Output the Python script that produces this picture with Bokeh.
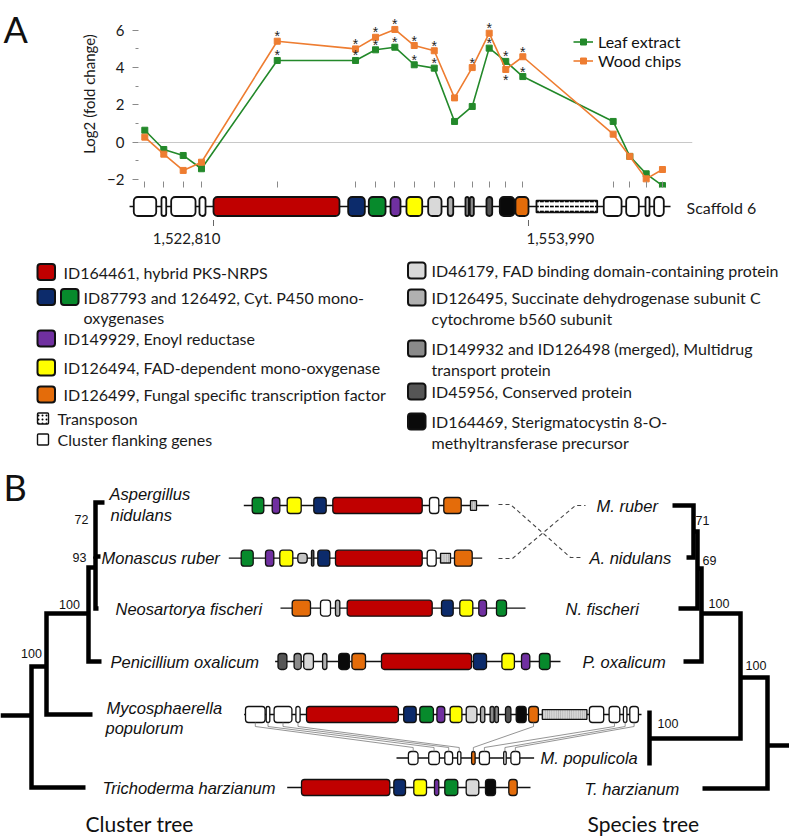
from bokeh.plotting import figure
from bokeh.models import (Range1d, FixedTicker, Legend, LegendItem,
                          ColumnDataSource, CustomJSTickFormatter)
from bokeh.layouts import column, row
from bokeh.embed import file_html
from bokeh.resources import INLINE
from bokeh.core.properties import value

# ---------------- Panel A data ----------------
# probe positions along scaffold 6, kb relative to position 1,522,810
probe_pos_kb = [-6.80, -4.92, -3.00, -1.19, 6.31, 14.06, 16.04, 17.95, 19.87, 21.85,
                23.86, 25.61, 27.29, 28.93, 30.62, 39.56, 41.21, 42.83, 44.44]
leaf_log2 = [0.64, -0.39, -0.71, -1.42, 4.37, 4.37, 4.94, 5.08, 4.14, 3.96,
             1.11, 1.91, 5.03, 4.32, 3.51, 1.11, -0.76, -1.69, -2.32]
wood_log2 = [0.27, -0.64, -1.51, -1.07, 5.40, 4.99, 5.61, 6.03, 5.17, 4.89,
             2.37, 3.99, 5.83, 3.89, 4.57, 0.43, -0.76, -1.96, -1.46]
leaf_sig = [0, 0, 0, 0, 1, 1, 1, 1, 1, 1, 0, 0, 1, 1, 1, 0, 0, 0, 0]
wood_sig = [0, 0, 0, 0, 1, 1, 1, 1, 1, 1, 0, 1, 1, 1, 1, 0, 0, 0, 0]
wood_star_below = [0, 0, 0, 0, 0, 0, 0, 0, 0, 0, 0, 0, 0, 1, 0, 0, 0, 0, 0]
series_names = ["Leaf extract", "Wood chips"]
y_ticks = [-2, 0, 2, 4, 6]
y_minor = [-1, 1, 3, 5]

# scaffold genes (kb relative to 1,522,810), kind
scaffold_genes = [
    (-7.89, -5.67, "flank"), (-5.15, -4.68, "flank"), (-4.19, -1.78, "flank"),
    (-1.39, -0.79, "flank"), (0.00, 12.47, "pks"), (13.33, 14.98, "p450a"),
    (15.37, 17.03, "p450b"), (17.52, 18.51, "er"), (19.10, 20.66, "fad"),
    (21.25, 22.57, "fadb"), (23.19, 23.73, "sdh"), (24.94, 25.27, "mdr"),
    (25.37, 25.77, "mdr"), (27.02, 27.59, "cons"), (28.34, 29.79, "mt"),
    (29.89, 31.18, "tf"), (31.97, 37.98, "tn"), (38.63, 40.39, "flank"),
    (40.85, 42.10, "flank"), (42.76, 43.16, "flank"), (43.62, 44.57, "flank"),
]
scaffold_span_kb = (-8.31, 45.24)
scaffold_marks_kb = [0.0, 31.18]
scaffold_mark_labels = ["1,522,810", "1,553,990"]

legend_left = [
    (["pks"], ["ID164461, hybrid PKS-NRPS"]),
    (["p450a", "p450b"], ["ID87793 and 126492, Cyt. P450 mono-", "oxygenases"]),
    (["er"], ["ID149929, Enoyl reductase"]),
    (["fad"], ["ID126494, FAD-dependent mono-oxygenase"]),
    (["tf"], ["ID126499, Fungal specific transcription factor"]),
    (["tn"], ["Transposon"]),
    (["flank"], ["Cluster flanking genes"]),
]
legend_right = [
    (["fadb"], ["ID46179, FAD binding domain-containing protein"]),
    (["sdh"], ["ID126495, Succinate dehydrogenase subunit C", "cytochrome b560 subunit"]),
    (["mdr"], ["ID149932 and ID126498 (merged), Multidrug", "transport protein"]),
    (["cons"], ["ID45956, Conserved protein"]),
    (["mt"], ["ID164469, Sterigmatocystin 8-O-", "methyltransferase precursor"]),
]

# ---------------- Panel B data (schematic units) ----------------
cluster_rows = {
    "A.nid": dict(y=505, span=(243.3, 488.3), genes=[
        (251.7, 263.3, "p450b"), (271.7, 279.3, "er"), (286.7, 300.7, "fad"),
        (313.3, 325.7, "p450a"), (332.3, 421.7, "pks"), (429, 438.3, "flank"),
        (443.3, 460.7, "tf"), (470, 476, "stripe")]),
    "M.rub": dict(y=557.7, span=(228.3, 481.7), genes=[
        (240.7, 252.7, "p450b"), (265, 273.3, "er"), (279.3, 292.3, "fad"),
        (297.3, 306.7, "grays"), (311, 313.3, "cons"), (317.3, 329.3, "p450a"),
        (335, 421.7, "pks"), (426.7, 435.7, "flank"), (440, 450, "stripe"),
        (454, 471.7, "tf")]),
    "N.fis": dict(y=607.7, span=(280, 525), genes=[
        (291.7, 310, "tf"), (320, 330, "flank"), (335, 339.3, "sdh"),
        (346.7, 431.7, "pks"), (441, 452.7, "p450a"), (459.3, 472.3, "fad"),
        (478.3, 486, "er"), (496, 506, "p450b")]),
    "P.oxa": dict(y=661, span=(274.6, 560), genes=[
        (277.5, 286.4, "cons"), (293.6, 300.7, "mdr"), (303.2, 312.9, "fadb"),
        (322.1, 326.4, "sdh"), (338.2, 348.9, "mt"), (351.4, 365, "tf"),
        (381, 471, "pks"), (472.9, 486, "p450a"), (501.4, 513.9, "fad"),
        (521, 529.3, "er"), (538.9, 549.6, "p450b")]),
    "M.pop": dict(y=714, span=(243.6, 641), genes=[
        (245, 264.6, "flank"), (265.7, 269.3, "flank"), (273.6, 291.4, "flank"),
        (295.4, 299.6, "flank"), (306, 397.9, "pks"), (403.2, 415.7, "p450a"),
        (419.3, 432.9, "p450b"), (436.4, 444.3, "er"), (449.6, 461.4, "fad"),
        (465.7, 476.4, "fadb"), (480, 484.3, "sdh"), (489.6, 493.6, "mdr"),
        (494.3, 497.9, "mdr"), (505, 510.4, "cons"), (515.7, 525.7, "mt"),
        (528.2, 537.9, "tf"), (541.8, 586.4, "tnb"), (588.9, 603.2, "flank"),
        (608.6, 619.3, "flank"), (622.9, 626.4, "flank"), (629.3, 637.9, "flank")]),
    "T.har": dict(y=787, span=(286.7, 530), genes=[
        (301, 389.3, "pks"), (393.3, 405, "p450a"), (413.3, 426, "fad"),
        (434, 438.3, "er"), (444.3, 457.3, "p450b"), (465.7, 478.3, "fadb"),
        (485, 495, "mt"), (508.3, 516.7, "tf")]),
}
mpop_row = dict(y=757.5, span=(396, 533.6), genes=[
    (407.9, 417.5, "flank"), (428.2, 438.9, "flank"), (444.3, 452.1, "flank"),
    (457.1, 460.4, "flank"), (471.1, 474.6, "tf"), (478.9, 488.9, "flank"),
    (503.2, 505.7, "flank"), (510.4, 519.3, "flank")])
# synteny links: (Mycosphaerella gene index, M. populicola gene index)
synteny_links = [(0, 0), (1, 1), (2, 2), (3, 3), (15, 4), (18, 5), (19, 6), (20, 7)]

cluster_labels = [("Aspergillus", 109, 493), ("nidulans", 110, 514),
                  ("Monascus ruber", 101, 557), ("Neosartorya fischeri", 115, 608),
                  ("Penicillium oxalicum", 110, 661), ("Mycosphaerella", 106, 707),
                  ("populorum", 105, 727), ("Trichoderma harzianum", 102, 787)]
species_labels = [("M. ruber", 596, 505), ("A. nidulans", 589, 557),
                  ("N. fischeri", 565, 608), ("P. oxalicum", 582, 661),
                  ("M. populicola", 540, 757), ("T. harzianum", 584, 788)]
cluster_support = [("72", 81, 519), ("93", 79, 557), ("100", 69, 604), ("100", 31, 653)]
species_support = [("71", 695, 520), ("69", 702, 560), ("100", 708, 603),
                   ("100", 745, 665), ("100", 657, 723)]
cluster_tree_paths = [
    [(104, 502), (95, 502), (95, 556), (100, 556)],
    [(95, 556), (95, 608), (98, 608)],
    [(95, 567), (88, 567), (88, 661), (101, 661)],
    [(88, 613), (46, 613), (46, 714), (92, 714)],
    [(46, 666), (31, 666), (31, 787), (85, 787)],
    [(31, 715), (0, 715)],
]
species_tree_paths = [
    [(672, 505), (693, 505), (693, 557), (686, 557)],
    [(693, 531), (697, 531), (697, 608), (678, 608)],
    [(697, 568), (701, 568), (701, 661), (683, 661)],
    [(701, 613), (740, 613), (740, 738), (649, 738)],
    [(649, 710), (649, 765)],
    [(740, 677), (767, 677), (767, 788), (702, 788)],
    [(767, 745), (790, 745)],
]
cross_links = [
    [(498, 504), (510, 504), (570, 557), (580, 557)],
    [(498, 558), (512, 558), (575, 505), (585, 505)],
]

# ---------------- styles ----------------
GREEN = "#23892a"
ORANGE = "#ee7d31"
GENE_FILL = {"pks": "#c00000", "p450a": "#0c2b6b", "p450b": "#078a2c", "er": "#7030a0",
             "fad": "#ffff00", "tf": "#e46c0a", "fadb": "#d9d9d9", "sdh": "#b0b0b0",
             "mdr": "#8a8a8a", "cons": "#555555", "mt": "#0a0a0a", "flank": "#ffffff",
             "tn": "#ffffff", "tnb": "#d6d6d6", "grays": "#c4c4c4", "stripe": "#d2d2d2"}
GENE_HFRAC = {"tn": 0.62, "tnb": 0.6, "grays": 0.6, "stripe": 0.6}
HATCH = {"tn": ('"', "#000000", 5, 1.6), "tnb": ("|", "#9a9a9a", 2.2, 0.7),
         "stripe": ("|", "#8a8a8a", 2.2, 0.7)}
LATO = value("Lato")
ARIAL = value("Liberation Sans")

W, H = 789, 836
LETTER_W = 30
HA = 193
HB = H - HA
FRAME_L, FRAME_R, FRAME_B = 138, 692, 187
PX_PER_KB, KB0_X = 10.1026, 213.0
Y0_PX, PX_PER_UNIT = 141.7, 18.7


def kb(xpx):
    return (xpx - KB0_X) / PX_PER_KB


def val(ypx):
    return (Y0_PX - ypx) / PX_PER_UNIT


# ================= panel letter A =================
pL = figure(width=LETTER_W, height=HA, x_range=Range1d(0, LETTER_W), y_range=Range1d(HA, 0),
            x_axis_type=None, y_axis_type=None, output_backend="svg", toolbar_location=None,
            min_border=0, frame_align=False)
pL.outline_line_color = None
pL.grid.visible = False
pL.text([3], [6], text=["A"], text_align="left", text_baseline="top", text_font=LATO,
        text_font_size="36px", text_color="#111111")

# ================= Figure A (line chart) =================
pA = figure(width=W - LETTER_W, height=HA, x_range=Range1d(kb(FRAME_L), kb(FRAME_R)),
            y_range=Range1d(val(FRAME_B), val(0)), output_backend="svg",
            toolbar_location=None, min_border_left=FRAME_L - LETTER_W,
            min_border_right=W - FRAME_R, min_border_top=0,
            min_border_bottom=HA - FRAME_B, frame_align=False)
pA.outline_line_color = None
pA.xgrid.visible = False
pA.ygrid.ticker = FixedTicker(ticks=[0])
pA.ygrid.grid_line_color = "#c8c8c8"
yax = pA.yaxis[0]
yax.ticker = FixedTicker(ticks=y_ticks, minor_ticks=y_minor)
yax.axis_line_color = None
yax.major_tick_line_color = "#8a8a8a"
yax.major_tick_out, yax.major_tick_in = 6, 0
yax.minor_tick_line_color = "#8a8a8a"
yax.minor_tick_out, yax.minor_tick_in = 3, 0
yax.major_label_text_font = "Lato"
yax.major_label_text_font_size = "15px"
yax.major_label_text_color = "#1a1a1a"
yax.major_label_standoff = 8
yax.axis_label = "Log2 (fold change)"
yax.axis_label_text_font = "Lato"
yax.axis_label_text_font_style = "normal"
yax.axis_label_text_font_size = "15px"
yax.axis_label_text_color = "#1a1a1a"
yax.axis_label_standoff = 6
xax = pA.xaxis[0]
xax.ticker = FixedTicker(ticks=probe_pos_kb, minor_ticks=[])
xax.axis_line_color = None
xax.major_tick_line_color = "#8a8a8a"
xax.major_tick_in, xax.major_tick_out = 6, 0
xax.minor_tick_line_color = None
xax.formatter = CustomJSTickFormatter(code="return ''")
xax.major_label_standoff = 0

srcL = ColumnDataSource(dict(x=probe_pos_kb, y=leaf_log2))
srcW = ColumnDataSource(dict(x=probe_pos_kb, y=wood_log2))
rL = pA.line("x", "y", source=srcL, color=GREEN, line_width=1.6)
mL = pA.scatter("x", "y", source=srcL, marker="square", size=6, color=GREEN)
rW = pA.line("x", "y", source=srcW, color=ORANGE, line_width=1.6)
mW = pA.scatter("x", "y", source=srcW, marker="square", size=6, color=ORANGE)

n = len(probe_pos_kb)
sx_up = [probe_pos_kb[i] for i in range(n) if leaf_sig[i]] + \
        [probe_pos_kb[i] for i in range(n) if wood_sig[i] and not wood_star_below[i]]
sy_up = [leaf_log2[i] for i in range(n) if leaf_sig[i]] + \
        [wood_log2[i] for i in range(n) if wood_sig[i] and not wood_star_below[i]]
sx_dn = [probe_pos_kb[i] for i in range(n) if wood_sig[i] and wood_star_below[i]]
sy_dn = [wood_log2[i] for i in range(n) if wood_sig[i] and wood_star_below[i]]
pA.text(sx_up, sy_up, text=["*"] * len(sx_up), text_align="center",
        text_baseline="middle", y_offset=-5, text_font=ARIAL,
        text_font_size="14px", text_color="#222222")
pA.text(sx_dn, sy_dn, text=["*"] * len(sx_dn), text_align="center",
        text_baseline="middle", y_offset=11, text_font=ARIAL,
        text_font_size="14px", text_color="#222222")

leg = Legend(items=[LegendItem(label=series_names[0], renderers=[rL, mL]),
                    LegendItem(label=series_names[1], renderers=[rW, mW])],
             location=(573 - FRAME_L, FRAME_B - 70.0), orientation="vertical")
leg.label_text_font = "Lato"
leg.label_text_font_size = "16px"
leg.label_text_color = "#111111"
leg.glyph_width, leg.glyph_height = 20, 15
leg.label_height = 15
leg.label_standoff = 5
leg.spacing = 0
leg.padding = 0
leg.margin = 0
leg.border_line_color = None
leg.background_fill_alpha = 0
pA.add_layout(leg)

# ================= Figure B (diagram) =================
pB = figure(width=W, height=HB, x_range=Range1d(0, W), y_range=Range1d(H, HA),
            x_axis_type=None, y_axis_type=None, output_backend="svg",
            toolbar_location=None, min_border_left=0, min_border_right=0,
            min_border_top=0, min_border_bottom=0, frame_align=False)
pB.outline_line_color = None
pB.grid.visible = False
pB.extra_x_ranges = {"kb": Range1d(kb(0), kb(W))}


def draw_genes(genes, yc, h, lw=1.3, rname="default", radius=3):
    plain = [g for g in genes if g[2] not in HATCH]
    src = dict(left=[g[0] for g in plain], right=[g[1] for g in plain],
               top=[yc - h * GENE_HFRAC.get(g[2], 1) / 2 for g in plain],
               bottom=[yc + h * GENE_HFRAC.get(g[2], 1) / 2 for g in plain],
               color=[GENE_FILL[g[2]] for g in plain])
    pB.quad(left="left", right="right", top="top", bottom="bottom", source=src,
            fill_color="color", line_color="#111111", line_width=lw,
            border_radius=radius, x_range_name=rname)
    for g in genes:
        if g[2] in HATCH:
            pat, hc, hs, hw = HATCH[g[2]]
            hh = h * GENE_HFRAC.get(g[2], 1) / 2
            pB.quad(left=[g[0]], right=[g[1]], top=[yc - hh], bottom=[yc + hh],
                    fill_color=GENE_FILL[g[2]], line_color="#111111", line_width=lw,
                    hatch_pattern=pat, hatch_color=hc, hatch_scale=hs,
                    hatch_weight=hw, x_range_name=rname)


# scaffold
SC_Y = 206
pB.line(list(scaffold_span_kb), [SC_Y, SC_Y], color="#111111", line_width=1.5,
        x_range_name="kb")
draw_genes(scaffold_genes, SC_Y, 19, lw=1.8, rname="kb", radius=4)
pB.segment(x0=scaffold_marks_kb, y0=[219.5] * 2, x1=scaffold_marks_kb, y1=[225.5] * 2,
           color="#666666", line_width=1, x_range_name="kb")
pB.text([scaffold_marks_kb[0]], [238], text=[scaffold_mark_labels[0]], text_align="right",
        x_offset=7, text_baseline="middle", text_font=LATO, text_font_size="15px",
        text_color="#1a1a1a", x_range_name="kb")
pB.text([scaffold_marks_kb[1]], [238], text=[scaffold_mark_labels[1]], text_align="left",
        x_offset=-2, text_baseline="middle", text_font=LATO, text_font_size="15px",
        text_color="#1a1a1a", x_range_name="kb")
pB.text([scaffold_span_kb[1]], [SC_Y + 1], text=["Scaffold 6"], text_align="left",
        x_offset=16, text_baseline="middle", text_font=LATO, text_font_size="16px",
        text_color="#1a1a1a", x_range_name="kb")

# legend of panel A
LEG_ROWS_L = [271.5, 296.5, 338, 367, 394, 418, 439]
LEG_ROWS_R = [270, 297, 348, 391, 421]
LINE_GAP = 20.5


def legend_block(entries, rows, x_icon, x_text):
    for (kinds, lines), yc in zip(entries, rows):
        small = kinds[0] in ("tn", "flank") and len(entries) == 7
        for k, kind in enumerate(kinds):
            if small:
                x0, x1, hh = x_icon, x_icon + 11, 5.5
            else:
                x0, x1, hh = x_icon + k * 23.5, x_icon + k * 23.5 + 17.5, 8
            kw = {}
            if kind == "tn":
                kw = dict(hatch_pattern=".", hatch_color="#000000", hatch_scale=4,
                          hatch_weight=2)
            pB.quad(left=[x0], right=[x1], top=[yc - hh], bottom=[yc + hh],
                    fill_color=GENE_FILL[kind], line_color="#111111",
                    line_width=1.4 if small else 2, border_radius=1 if small else 3, **kw)
        xt = x_text + (20 if len(kinds) > 1 else 0) - (6 if small else 0)
        pB.text([xt] * len(lines), [yc + LINE_GAP * j for j in range(len(lines))],
                text=lines, text_align="left", text_baseline="middle", text_font=LATO,
                text_font_size="16px", text_color="#1a1a1a")


legend_block(legend_left, LEG_ROWS_L, 37, 63)
legend_block(legend_right, LEG_ROWS_R, 407.5, 431)

# panel B letter
pB.text([3], [464], text=["B"], text_align="left", text_baseline="top", text_font=LATO,
        text_font_size="36px", text_color="#111111")

# cluster rows
for key, rw in cluster_rows.items():
    pB.line(list(rw["span"]), [rw["y"]] * 2, color="#111111", line_width=1.3)
    draw_genes(rw["genes"], rw["y"], 16)
pB.line(list(mpop_row["span"]), [mpop_row["y"]] * 2, color="#111111", line_width=1.3)
draw_genes(mpop_row["genes"], mpop_row["y"], 13)

# synteny links
myco = cluster_rows["M.pop"]
lx, ly = [], []
for a, b in synteny_links:
    ga, gb = myco["genes"][a], mpop_row["genes"][b]
    xa, xb = (ga[0] + ga[1]) / 2, (gb[0] + gb[1]) / 2
    lx.append([xa, xa, xb, xb])
    ly.append([myco["y"] + 8, myco["y"] + 12, mpop_row["y"] - 10.5, mpop_row["y"] - 6.5])
pB.multi_line(lx, ly, color="#7a7a7a", line_width=0.8)

# crossing dashed links
pB.multi_line([[p[0] for p in c] for c in cross_links], [[p[1] for p in c] for c in cross_links],
              color="#444444", line_width=1.1, line_dash="4 3")

# trees
for paths in (cluster_tree_paths, species_tree_paths):
    pB.multi_line([[p[0] for p in c] for c in paths], [[p[1] for p in c] for c in paths],
                  color="#000000", line_width=4.5, line_join="miter", line_cap="butt")

# labels
pB.text([c[1] for c in cluster_labels], [c[2] for c in cluster_labels],
        text=[c[0] for c in cluster_labels], text_align="left", text_baseline="middle",
        text_font=ARIAL, text_font_style="italic", text_font_size="16.5px",
        text_color="#111111")
pB.text([c[1] for c in species_labels], [c[2] for c in species_labels],
        text=[c[0] for c in species_labels], text_align="left", text_baseline="middle",
        text_font=ARIAL, text_font_style="italic", text_font_size="16.5px",
        text_color="#111111")
pB.text([c[1] for c in cluster_support], [c[2] for c in cluster_support],
        text=[c[0] for c in cluster_support], text_align="center", text_baseline="middle",
        text_font=ARIAL, text_font_size="12.5px", text_color="#111111")
pB.text([c[1] for c in species_support], [c[2] for c in species_support],
        text=[c[0] for c in species_support], text_align="left", text_baseline="middle",
        text_font=ARIAL, text_font_size="12.5px", text_color="#111111")
pB.text([85, 587], [823, 823], text=["Cluster tree", "Species tree"], text_align="left",
        text_baseline="middle", text_font=LATO, text_font_size="21px", text_color="#111111")

layout = column(row(pL, pA, spacing=0), pB, spacing=0)
open("out.html", "w").write(file_html(layout, INLINE))
